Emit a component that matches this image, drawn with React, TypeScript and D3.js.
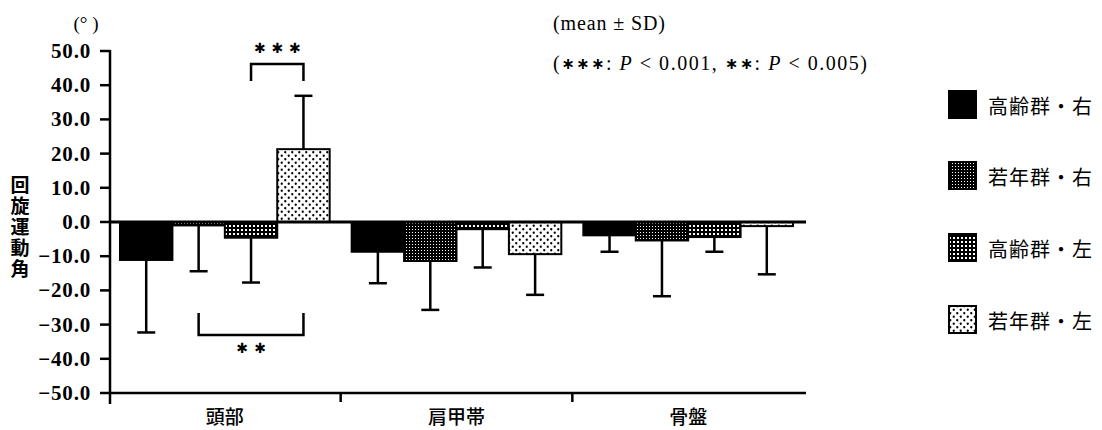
import React from "react";
import * as d3 from "d3";

const categories = ["頭部", "肩甲帯", "骨盤"];
const seriesNames = ["高齢群・右", "若年群・右", "高齢群・左", "若年群・左"];
const elderlyRight = [-11.1, -8.7, -3.9];
const elderlyRightSD = [21.2, 9.2, 4.8];
const youngRight = [-1.0, -11.4, -5.4];
const youngRightSD = [13.4, 14.3, 16.3];
const elderlyLeft = [-4.6, -2.1, -4.4];
const elderlyLeftSD = [13.1, 11.2, 4.3];
const youngLeft = [21.3, -9.4, -1.2];
const youngLeftSD = [15.6, 11.9, 14.1];
const yTicks = [50, 40, 30, 20, 10, 0, -10, -20, -30, -40, -50];

const seriesMeans = [elderlyRight, youngRight, elderlyLeft, youngLeft];
const seriesSDs = [elderlyRightSD, youngRightSD, elderlyLeftSD, youngLeftSD];
const fills = ["#000", "url(#p2)", "url(#p3)", "url(#p4)"];

const W = 1102;
const H = 430;
const serifNum = "'Liberation Serif', 'Times New Roman', serif";
const cjk = "'Noto Sans CJK JP', sans-serif";
const times = "'Liberation Serif', 'Times New Roman', serif";

export default function App() {
  const y = d3.scaleLinear().domain([-50, 50]).range([393, 51]);
  const x0 = d3.scaleBand<string>().domain(categories).range([109, 804]);
  const x1 = d3
    .scaleBand<string>()
    .domain(seriesNames)
    .range([0, x0.bandwidth()])
    .paddingInner(0)
    .paddingOuter(0.21);
  const fmt = d3.format(".1f");
  const axisX = 110;
  const cap = 9;

  const barCenter = (ci: number, si: number) =>
    (x0(categories[ci]) as number) + (x1(seriesNames[si]) as number) + x1.bandwidth() / 2;

  const legendY = [105, 176, 248, 320];

  const star = (cx: number, cy: number, key: string) => (
    <text
      key={key}
      x={cx}
      y={cy}
      textAnchor="middle"
      dominantBaseline="central"
      fontFamily="'DejaVu Sans', sans-serif"
      fontSize={14}
      fontWeight="bold"
    >
      ✱
    </text>
  );

  const b1x1 = barCenter(0, 2);
  const b1x2 = barCenter(0, 3);
  const b2x1 = barCenter(0, 1);
  const b2x2 = barCenter(0, 3);

  return (
    <svg width={W} height={H} style={{ display: "block", position: "absolute", left: 0, top: 0, background: "#fff" }}>
      <defs>
        <pattern id="p2" patternUnits="userSpaceOnUse" width={3} height={3}>
          <rect width={3} height={3} fill="#000" shapeRendering="crispEdges" />
          <rect x={1} y={1} width={1} height={1} fill="#fff" shapeRendering="crispEdges" />
        </pattern>
        <pattern id="p3" patternUnits="userSpaceOnUse" width={4} height={4}>
          <rect width={4} height={4} fill="#000" shapeRendering="crispEdges" />
          <rect x={1} y={1} width={2} height={2} fill="#fff" shapeRendering="crispEdges" />
        </pattern>
        <pattern id="p4" patternUnits="userSpaceOnUse" width={7} height={7}>
          <rect width={7} height={7} fill="#fff" />
          <circle cx={1.75} cy={1.75} r={1.15} fill="#000" />
          <circle cx={5.25} cy={5.25} r={1.15} fill="#000" />
        </pattern>
      </defs>

      {/* bars */}
      {categories.map((c, ci) =>
        seriesNames.map((s, si) => {
          const v = seriesMeans[si][ci];
          const bx = (x0(c) as number) + (x1(s) as number);
          const top = y(Math.max(0, v));
          const bot = y(Math.min(0, v));
          return (
            <rect
              key={`b-${ci}-${si}`}
              x={bx}
              y={top}
              width={x1.bandwidth()}
              height={Math.max(0, bot - top)}
              fill={fills[si]}
              stroke="#000"
              strokeWidth={2}
            />
          );
        })
      )}

      {/* error bars */}
      {categories.map((c, ci) =>
        seriesNames.map((s, si) => {
          const v = seriesMeans[si][ci];
          const sd = seriesSDs[si][ci];
          const end = v >= 0 ? v + sd : v - sd;
          const cx = barCenter(ci, si);
          return (
            <g key={`e-${ci}-${si}`} stroke="#000" strokeWidth={2.5}>
              <line x1={cx} x2={cx} y1={y(v)} y2={y(end)} />
              <line x1={cx - cap} x2={cx + cap} y1={y(end)} y2={y(end)} />
            </g>
          );
        })
      )}

      {/* zero line */}
      <line x1={axisX} x2={806} y1={y(0)} y2={y(0)} stroke="#000" strokeWidth={3} />

      {/* y axis */}
      <line x1={axisX} x2={axisX} y1={y(50) - 1} y2={y(-50) + 11} stroke="#000" strokeWidth={2.5} />
      {yTicks.map((t) => (
        <g key={`t-${t}`}>
          <line x1={axisX - 10} x2={axisX} y1={y(t)} y2={y(t)} stroke="#000" strokeWidth={2.5} />
          <text
            x={axisX - 19}
            y={y(t)}
            textAnchor="end"
            dominantBaseline="central"
            fontFamily={serifNum}
            fontSize={21}
            fontWeight="bold"
            letterSpacing={0.8}
            fill="#000"
          >
            {fmt(t)}
          </text>
        </g>
      ))}

      {/* x axis */}
      <line x1={axisX} x2={806} y1={y(-50)} y2={y(-50)} stroke="#000" strokeWidth={2.5} />
      {categories.slice(1).map((c) => (
        <line
          key={`xt-${c}`}
          x1={x0(c) as number}
          x2={x0(c) as number}
          y1={y(-50)}
          y2={y(-50) + 9}
          stroke="#000"
          strokeWidth={2.5}
        />
      ))}
      {categories.map((c) => (
        <text
          key={`xl-${c}`}
          x={(x0(c) as number) + x0.bandwidth() / 2}
          y={415}
          textAnchor="middle"
          dominantBaseline="central"
          fontFamily={cjk}
          fontSize={19}
          fontWeight={500}
        >
          {c}
        </text>
      ))}

      {/* unit */}
      <text x={86} y={23} textAnchor="middle" dominantBaseline="central" fontFamily={times} fontSize={19}>
        (°&#160;)
      </text>

      {/* y title, vertical */}
      <text
        x={20}
        y={175}
        writingMode="vertical-rl"
        fontFamily={cjk}
        fontSize={19}
        fontWeight="bold"
        letterSpacing={2}
      >
        回旋運動角
      </text>

      {/* significance */}
      <path d={`M${b1x1},${81} V${64} H${b1x2} V${81}`} fill="none" stroke="#000" strokeWidth={2.5} />
      {[-17.5, 0, 17.5].map((dx, i) => star((b1x1 + b1x2) / 2 + dx, 48, `s3-${i}`))}
      <path d={`M${b2x1},${313} V${335} H${b2x2} V${313}`} fill="none" stroke="#000" strokeWidth={2.5} />
      {[-9, 9].map((dx, i) => star((b2x1 + b2x2) / 2 + dx, 348, `s2-${i}`))}

      {/* notes */}
      <text x={553} y={23} dominantBaseline="central" fontFamily={times} fontSize={20} textLength={112} lengthAdjust="spacing">
        (mean ± SD)
      </text>
      <text x={553} y={63} dominantBaseline="central" fontFamily={times} fontSize={20} textLength={314} lengthAdjust="spacing">
        (
        <tspan fontFamily="'DejaVu Sans', sans-serif" fontWeight="bold" fontSize={16}>∗∗∗</tspan>
        : <tspan fontStyle="italic">P</tspan>{" < 0.001,  "}
        <tspan fontFamily="'DejaVu Sans', sans-serif" fontWeight="bold" fontSize={16}>∗∗</tspan>
        : <tspan fontStyle="italic">P</tspan>{" < 0.005)"}
      </text>

      {/* legend */}
      {seriesNames.map((s, i) => (
        <g key={`lg-${i}`}>
          <rect x={949} y={legendY[i] - 14} width={27} height={27} fill={fills[i]} stroke="#000" strokeWidth={2} />
          <text x={988} y={legendY[i]} dominantBaseline="central" fontFamily={cjk} fontSize={20} letterSpacing={1}>
            {s}
          </text>
        </g>
      ))}
    </svg>
  );
}
